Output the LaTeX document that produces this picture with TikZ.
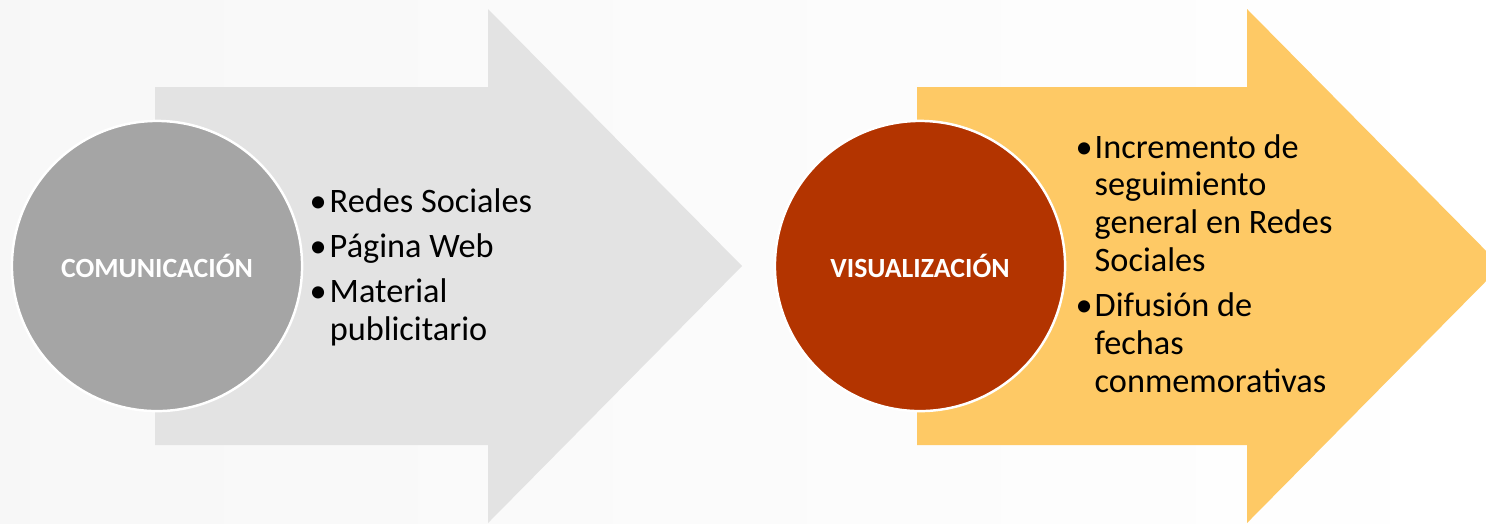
\documentclass[tikz,border=0pt]{standalone}
\usepackage{fontspec}
\setmainfont{Carlito}
\usetikzlibrary{positioning}
\definecolor{arrowgray}{HTML}{E3E3E3}
\definecolor{circlegray}{HTML}{A5A5A5}
\definecolor{arrowyellow}{HTML}{FEC965}
\definecolor{circlered}{HTML}{B33400}

\begin{document}
\begin{tikzpicture}[x=0.01cm, y=-0.01cm,
	hub/.style={circle, draw=white, line width=0.7pt, minimum size=2.9cm, inner sep=0pt,
		text=white, font=\fontsize{7.9}{9}\selectfont\bfseries},
	items/.style={anchor=base west, inner sep=0pt, font=\fontsize{9.75}{10.8}\selectfont}]

				\shade[left color=black!3, right color=white] (0,0) rectangle (1486,523);
				\useasboundingbox (0,0) rectangle (1486,523);

				\begin{scope}
					\clip (0,0) rectangle (1486,523);
					% left arrow
					\fill[arrowgray] (155,87) -- (488,87) -- (488,9) -- (742,266)
					-- (488,523) -- (488,445) -- (155,445) -- cycle;
					% right arrow
					\fill[arrowyellow] (917,87) -- (1247,87) -- (1247,9) -- (1501,266)
					-- (1247,523) -- (1247,445) -- (917,445) -- cycle;
				\end{scope}

				\node[hub, fill=circlegray] (comunicacion) at (157,266) {COMUNICACIÓN};
				\node[hub, fill=circlered] (visualizacion) at (920,266) {VISUALIZACIÓN};

				\node[items] (comunicacion-items) at (309,212) {%
					\begin{tabular}[t]{@{}p{5.7pt}@{}l@{}}
						\textbullet & Redes Sociales\\[2pt]
						\textbullet & Página Web\\[2pt]
						\textbullet & Material\\
						& publicitario
					\end{tabular}};

				\node[items] (visualizacion-items) at (1075,158) {%
					\begin{tabular}[t]{@{}p{5.4pt}@{}l@{}}
						\textbullet & Incremento de\\
						& seguimiento\\
						& general en Redes\\
						& Sociales\\[2pt]
						\textbullet & Difusión de\\
						& fechas\\
						& conmemorativas
					\end{tabular}};

\end{tikzpicture}
\end{document}
